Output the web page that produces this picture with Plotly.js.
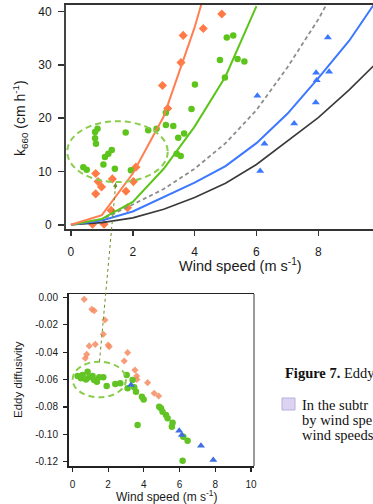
<!DOCTYPE html>
<html>
<head>
<meta charset="utf-8">
<script src="https://cdn.plot.ly/plotly-3.0.1.min.js"></script>
<style>
html,body{margin:0;padding:0;background:#fff;overflow:hidden;}
#chart{width:373px;height:504px;}
</style>
</head>
<body>
<div id="chart"></div>
<script>
// ---------- Top panel: k660 vs wind speed ----------
const topOrangeWind = [0.70, 1.07, 1.30, 1.83, 0.80, 1.78, 0.99, 0.88, 1.34, 2.02, 0.80, 2.10, 3.13, 2.96, 3.56, 3.63, 4.28, 4.88];
const topOrangeK    = [0.1, 0.1, 2.7, 3.2, 5.8, 6.3, 7.1, 8.1, 8.6, 8.1, 9.6, 10.8, 21.8, 26.1, 30.4, 35.5, 36.8, 39.5];

const topGreenWind = [0.40, 0.51, 1.05, 1.42, 1.94, 1.10, 1.21, 1.32, 0.81, 0.78, 0.78, 0.86, 1.77, 2.50, 2.77, 3.07, 3.31, 3.47, 3.66, 3.42, 3.55, 3.07, 3.90, 4.01, 4.98, 4.82, 5.39, 5.61, 5.04, 5.25];
const topGreenK    = [10.8, 10.3, 11.3, 10.5, 10.2, 12.7, 13.3, 14.0, 15.2, 16.2, 17.4, 18.0, 17.3, 17.7, 18.0, 18.7, 18.5, 16.3, 17.1, 13.3, 12.9, 21.0, 21.7, 26.3, 27.6, 30.9, 31.1, 30.6, 35.1, 35.5];

const topBlueWind = [6.12, 6.26, 6.03, 7.22, 7.92, 7.95, 7.93, 8.35, 8.31];
const topBlueK    = [10.1, 15.2, 24.2, 19.0, 22.9, 27.1, 28.5, 28.7, 35.1];

// model curves
const orangeCurveWind = [0, 1, 2, 3, 4, 5];
const orangeCurveK    = [0, 1.8, 9.6, 20.3, 37.0, 57.0];
const greenCurveWind  = [0, 1, 2, 3, 4, 5, 6];
const greenCurveK     = [0, 1.1, 4.3, 10.5, 18.4, 27.8, 41.0];
const grayCurveWind   = [0, 1, 2, 3, 4, 5, 6, 7, 8, 9];
const grayCurveK      = [0, 1.0, 3.8, 6.7, 10.5, 15.3, 21.5, 29.5, 38.5, 49.0];
const blueCurveWind   = [0, 1, 2, 3, 4, 5, 6, 7, 8, 9, 10];
const blueCurveK      = [0, 0.8, 2.5, 5.2, 7.9, 11.0, 15.3, 20.8, 27.5, 34.5, 43.0];
const blackCurveWind  = [0, 1, 2, 3, 4, 5, 6, 7, 8, 9, 10];
const blackCurveK     = [0, 0.4, 1.3, 2.9, 5.1, 7.8, 11.3, 15.7, 20.1, 25.3, 31.0];

const topTicksX = [0, 2, 4, 6, 8];
const topTicksY = [0, 10, 20, 30, 40];

// ---------- Bottom panel: eddy diffusivity vs wind speed ----------
const botOrangeWind = [0.66, 1.09, 1.22, 1.82, 1.73, 1.28, 0.94, 2.00, 2.06, 0.80, 0.72, 3.09, 2.90, 3.50, 3.60, 3.61, 4.21, 4.58, 4.83];
const botOrangeD    = [-0.0015, -0.0088, -0.0098, -0.0166, -0.027, -0.0343, -0.0355, -0.0348, -0.036, -0.0416, -0.0445, -0.0404, -0.0465, -0.0531, -0.0574, -0.0599, -0.0623, -0.070, -0.072];

const botGreenWind = [0.29, 0.57, 0.85, 0.94, 1.13, 1.37, 1.50, 1.73, 0.48, 0.76, 1.22, 1.92, 2.40, 2.68, 3.04, 3.09, 3.37, 3.56, 3.46, 3.89, 3.99, 3.65, 4.86, 4.96, 5.05, 5.24, 5.33, 5.61, 5.57, 6.21, 6.45, 6.17];
const botGreenD    = [-0.0574, -0.0567, -0.0543, -0.0584, -0.0574, -0.0616, -0.0584, -0.0584, -0.0591, -0.0599, -0.0604, -0.0647, -0.0633, -0.0628, -0.0567, -0.0664, -0.0604, -0.0689, -0.0657, -0.0726, -0.0745, -0.0932, -0.0799, -0.081, -0.0835, -0.0859, -0.0883, -0.0915, -0.0945, -0.1018, -0.1047, -0.1193];

const botBlueWind = [3.28, 5.98, 6.13, 7.20, 7.89];
const botBlueD    = [-0.064, -0.0974, -0.1005, -0.1083, -0.1188];

const botTicksX = [0, 2, 4, 6, 8, 10];
const botTicksY = [0, -0.02, -0.04, -0.06, -0.08, -0.10, -0.12];
const botTickText = ['0.00', '-0.02', '-0.04', '-0.06', '-0.08', '-0.10', '-0.12'];

// highlighted clusters (dashed ellipses)
const topEllipseWind = [-0.12, 3.13];
const topEllipseK    = [8.0, 19.4];
const botEllipseWind = [0.01, 3.0];
const botEllipseD    = [-0.073, -0.047];

// caption text
const captionTitleBold = 'Figure 7.';
const captionTitleRest = ' Eddy';
const captionLines = ['In the subtr', 'by wind spe', 'wind speeds'];

// ---------- styling ----------
const W = 373, H = 504;
const px = v => v / W;
const py = v => 1 - v / H;
const sans = 'Liberation Sans, Arial, sans-serif';
const serif = 'Liberation Serif, Times New Roman, serif';
const cOrange = '#FF7A45', cGreen = '#5CC41A', cBlue = '#3B78FF';

const traces = [
  {x: topOrangeWind, y: topOrangeK, xaxis: 'x', yaxis: 'y', mode: 'markers', type: 'scatter',
   marker: {symbol: 'diamond', size: 7, color: cOrange}},
  {x: topGreenWind, y: topGreenK, xaxis: 'x', yaxis: 'y', mode: 'markers', type: 'scatter',
   marker: {symbol: 'circle', size: 6.5, color: cGreen}},
  {x: topBlueWind, y: topBlueK, xaxis: 'x', yaxis: 'y', mode: 'markers', type: 'scatter',
   marker: {symbol: 'triangle-up', size: 7, color: cBlue}},
  {x: blackCurveWind, y: blackCurveK, xaxis: 'x', yaxis: 'y', mode: 'lines', type: 'scatter',
   line: {color: '#3a3a3a', width: 1.6}},
  {x: blueCurveWind, y: blueCurveK, xaxis: 'x', yaxis: 'y', mode: 'lines', type: 'scatter',
   line: {color: cBlue, width: 2}},
  {x: grayCurveWind, y: grayCurveK, xaxis: 'x', yaxis: 'y', mode: 'lines', type: 'scatter',
   line: {color: '#8c8c8c', width: 1.8, dash: '4px,3px'}},
  {x: greenCurveWind, y: greenCurveK, xaxis: 'x', yaxis: 'y', mode: 'lines', type: 'scatter',
   line: {color: cGreen, width: 2}},
  {x: orangeCurveWind, y: orangeCurveK, xaxis: 'x', yaxis: 'y', mode: 'lines', type: 'scatter',
   line: {color: '#FF7F50', width: 2}},

  {x: botOrangeWind, y: botOrangeD, xaxis: 'x2', yaxis: 'y2', mode: 'markers', type: 'scatter',
   marker: {symbol: 'diamond', size: 5.5, color: '#F48C62', opacity: 0.85}},
  {x: botGreenWind, y: botGreenD, xaxis: 'x2', yaxis: 'y2', mode: 'markers', type: 'scatter',
   marker: {symbol: 'circle', size: 6.5, color: '#62C424'}},
  {x: botBlueWind, y: botBlueD, xaxis: 'x2', yaxis: 'y2', mode: 'markers', type: 'scatter',
   marker: {symbol: 'triangle-up', size: 7, color: '#3F6FE0'}}
];

const axisCommon = {
  showgrid: false, zeroline: false, showline: true, ticks: 'outside', tickmode: 'array'
};

const layout = {
  width: W, height: H,
  margin: {l: 0, r: 0, t: 0, b: 0},
  paper_bgcolor: '#fff', plot_bgcolor: '#fff',
  showlegend: false,
  xaxis: Object.assign({}, axisCommon, {
    domain: [px(66), 1], anchor: 'y', range: [-0.16, 9.77], tickvals: topTicksX,
    ticklen: 5, tickwidth: 1.5, tickcolor: '#333', linecolor: '#333', linewidth: 2, mirror: true,
    ticklabelstandoff: 6,
    tickfont: {family: sans, size: 12, color: '#1a1a1a'}
  }),
  yaxis: Object.assign({}, axisCommon, {
    domain: [py(229), py(5)], anchor: 'x', range: [-0.79, 41.2], tickvals: topTicksY,
    ticklen: 6, tickwidth: 1.5, tickcolor: '#333', linecolor: '#444', linewidth: 2, mirror: false,
    ticklabelstandoff: 4,
    tickfont: {family: sans, size: 12, color: '#1a1a1a'}
  }),
  xaxis2: Object.assign({}, axisCommon, {
    domain: [px(68.5), px(254)], anchor: 'y2', range: [-0.22, 10.17], tickvals: botTicksX,
    ticklen: 4, tickwidth: 1.2, tickcolor: '#222', linecolor: '#222', linewidth: 1.5, mirror: true,
    ticklabelstandoff: 4,
    tickfont: {family: sans, size: 10, color: '#1a1a1a'}
  }),
  yaxis2: Object.assign({}, axisCommon, {
    domain: [py(466), py(294)], anchor: 'x2', range: [-0.1231, 0.0024], tickvals: botTicksY, ticktext: botTickText,
    ticklen: 4, tickwidth: 1.2, tickcolor: '#222', linecolor: '#222', linewidth: 1.5, mirror: false,
    ticklabelstandoff: 3,
    tickfont: {family: sans, size: 10, color: '#1a1a1a'}
  }),
  shapes: [
    {type: 'circle', xref: 'x', yref: 'y', x0: topEllipseWind[0], x1: topEllipseWind[1], y0: topEllipseK[0], y1: topEllipseK[1],
     line: {color: '#8ACD4E', width: 2, dash: '6px,4px'}},
    {type: 'circle', xref: 'x2', yref: 'y2', x0: botEllipseWind[0], x1: botEllipseWind[1], y0: botEllipseD[0], y1: botEllipseD[1],
     line: {color: '#8ACD4E', width: 2, dash: '6px,4px'}},
    {type: 'line', xref: 'x2 domain', yref: 'y2 domain', x0: 1, x1: 1, y0: 0, y1: 1,
     line: {color: '#9a9a9a', width: 2}},
    {type: 'line', xref: 'paper', yref: 'paper', x0: px(99.5), y0: py(361.5), x1: px(115.7), y1: py(184),
     line: {color: '#6B8E23', width: 1, dash: 'dot'}},
    {type: 'rect', xref: 'paper', yref: 'paper', x0: px(282), x1: px(295), y0: py(410), y1: py(398),
     fillcolor: '#DCD3F2', line: {color: '#B9AEDD', width: 1}}
  ],
  annotations: [
    {xref: 'paper', yref: 'paper', x: px(115.7), y: py(182.5), ax: -0.8, ay: 8, text: '', showarrow: true,
     arrowhead: 2, arrowsize: 0.9, arrowwidth: 1, arrowcolor: '#6B8E23'},
    {xref: 'paper', yref: 'paper', x: px(20), y: py(118), text: 'k<sub>660</sub> (cm h<sup>-1</sup>)', textangle: -90,
     showarrow: false, xanchor: 'center', yanchor: 'middle', font: {family: sans, size: 14, color: '#1a1a1a'}},
    {xref: 'paper', yref: 'paper', x: px(240), y: py(265), text: 'Wind speed (m s<sup>-1</sup>)',
     showarrow: false, xanchor: 'center', yanchor: 'middle', font: {family: sans, size: 14.5, color: '#1a1a1a'}},
    {xref: 'paper', yref: 'paper', x: px(18), y: py(380), text: 'Eddy diffusivity', textangle: -90,
     showarrow: false, xanchor: 'center', yanchor: 'middle', font: {family: sans, size: 11.5, color: '#1a1a1a'}},
    {xref: 'paper', yref: 'paper', x: px(166.5), y: py(496), text: 'Wind speed (m s<sup>-1</sup>)',
     showarrow: false, xanchor: 'center', yanchor: 'middle', font: {family: sans, size: 12, color: '#1a1a1a'}},
    {xref: 'paper', yref: 'paper', x: px(282.5), y: py(373), text: '<b>' + captionTitleBold + '</b>' + captionTitleRest,
     showarrow: false, xanchor: 'left', yanchor: 'middle', font: {family: serif, size: 14.5, color: '#111'}},
    {xref: 'paper', yref: 'paper', x: px(300), y: py(405), text: captionLines[0],
     showarrow: false, xanchor: 'left', yanchor: 'middle', font: {family: serif, size: 14.5, color: '#111'}},
    {xref: 'paper', yref: 'paper', x: px(300), y: py(420), text: captionLines[1],
     showarrow: false, xanchor: 'left', yanchor: 'middle', font: {family: serif, size: 14.5, color: '#111'}},
    {xref: 'paper', yref: 'paper', x: px(300), y: py(435), text: captionLines[2],
     showarrow: false, xanchor: 'left', yanchor: 'middle', font: {family: serif, size: 14.5, color: '#111'}}
  ]
};

Plotly.newPlot('chart', traces, layout, {staticPlot: true, displayModeBar: false});
</script>
</body>
</html>
